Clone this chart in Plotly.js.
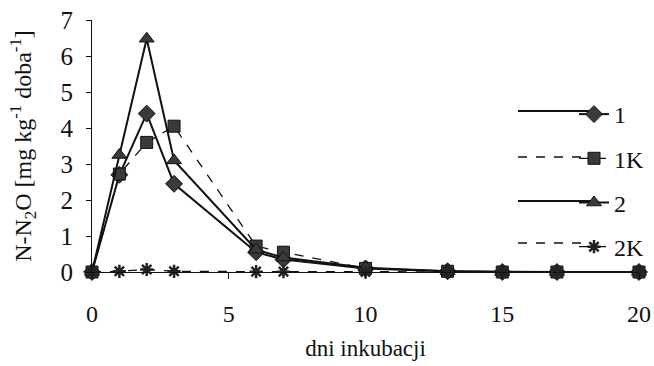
<!DOCTYPE html>
<html>
<head>
<meta charset="utf-8">
<script src="https://cdn.plot.ly/plotly-3.0.1.min.js"></script>
<style>html,body{margin:0;padding:0;background:#fff;}#chart{width:654px;height:366px;}</style>
</head>
<body>
<div id="chart"></div>
<script>
const days = [0, 1, 2, 3, 6, 7, 10, 13, 15, 17, 20];
const s1  = [0, 2.70, 4.40, 2.45, 0.55, 0.35, 0.10, 0.02, 0, 0, 0];
const s1K = [0, 2.72, 3.60, 4.05, 0.72, 0.55, 0.10, 0.02, 0, 0, 0];
const s2  = [0, 3.25, 6.48, 3.10, 0.62, 0.40, 0.12, 0.02, 0, 0, 0];
const s2K = [0, 0.02, 0.07, 0.02, 0.01, 0.01, 0, 0, 0, 0, 0];
const names = ['1', '1K', '2', '2K'];
const xTicks = [0, 5, 10, 15, 20];
const yTicks = [0, 1, 2, 3, 4, 5, 6, 7];

const serif = 'Liberation Serif';
const markFill = '#3a3a3a';

// plot area in pixels (for the decorative legend line extensions)
const L = 92, R = 15, T = 20, B = 94, W = 654 - L - R, H = 366 - T - B;

function tr(y, name, symbol, size, dash, width, group) {
  const star = symbol === 'asterisk-open';
  return {
    x: days, y: y, name: name, type: 'scatter', mode: 'lines+markers',
    cliponaxis: false, legendgroup: group,
    line: {color: '#111', width: width, dash: dash},
    marker: {symbol: symbol, size: size, color: star ? '#222' : markFill,
             line: {color: star ? '#222' : '#111', width: star ? 2.5 : 1}}
  };
}

const data = [
  tr(s1, names[0], 'diamond', 13, 'solid', 2, 'a'),
  tr(s1K, names[1], 'square', 12, 'dash', 1.3, 'b'),
  tr(s2, names[2], 'triangle-up', 13, 'solid', 2, 'c'),
  tr(s2K, names[3], 'asterisk-open', 11, 'dash', 1.3, 'd')
];

const legY = [111, 157, 201, 243];
const legDash = ['solid', 'dash', 'solid', 'dash'];
const legW = [2, 1.3, 2, 1.3];
const shapes = legY.map((py, i) => ({
  type: 'line', xref: 'paper', yref: 'paper',
  x0: (518 - L) / W, x1: (590 - L) / W,
  y0: (T + H - py) / H, y1: (T + H - py) / H,
  line: {color: '#111', width: legW[i], dash: legDash[i]}
}));

const layout = {
  width: 654, height: 366,
  margin: {l: L, r: R, t: T, b: B, autoexpand: false},
  paper_bgcolor: '#fff', plot_bgcolor: '#fff',
  font: {family: serif, color: '#111', size: 24},
  showlegend: true,
  shapes: shapes,
  legend: {x: (574 - L) / W, xanchor: 'left', y: (T + H - 92) / H, yanchor: 'top',
           bgcolor: 'rgba(0,0,0,0)', font: {family: serif, size: 24, color: '#111'},
           tracegroupgap: 10, itemwidth: 30},
  xaxis: {range: [0, 20], tickvals: xTicks, ticktext: xTicks.map(String),
          showgrid: false, zeroline: false, showline: true, linecolor: '#111', linewidth: 1,
          ticks: 'outside', ticklen: 6, tickcolor: '#111', ticklabelstandoff: 14,
          ticklabeloverflow: 'allow', automargin: false,
          tickfont: {family: serif, size: 24, color: '#111'},
          title: {text: 'dni inkubacji', font: {family: serif, size: 23, color: '#111'}, standoff: 14}},
  yaxis: {range: [0, 7], tickvals: yTicks, ticktext: yTicks.map(String),
          showgrid: false, zeroline: false, showline: true, linecolor: '#111', linewidth: 1,
          ticks: 'outside', ticklen: 5, tickcolor: '#111', ticklabelstandoff: 8,
          ticklabeloverflow: 'allow', automargin: false,
          tickfont: {family: serif, size: 25, color: '#111'},
          title: {text: 'N-N<sub>2</sub>O [mg kg<sup>-1</sup> doba<sup>-1</sup>]', font: {family: serif, size: 24, color: '#111'}, standoff: 22}}
};

Plotly.newPlot('chart', data, layout, {displayModeBar: false, staticPlot: true});
</script>
</body>
</html>
